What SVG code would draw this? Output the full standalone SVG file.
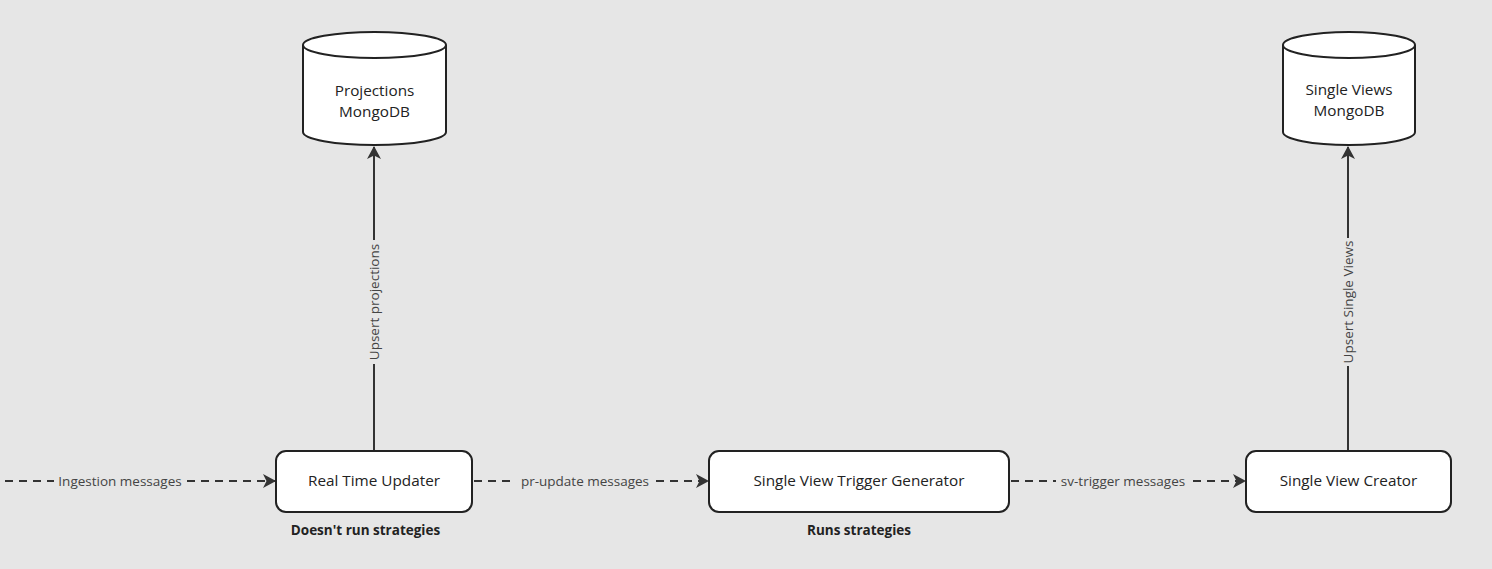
<svg xmlns="http://www.w3.org/2000/svg" width="1492" height="569" viewBox="0 0 1492 569">
<style>
.bg{fill:#e6e6e6}
.node{fill:#ffffff;stroke:#222;stroke-width:2}
.nt{font-family:"Open Sans","Liberation Sans",sans-serif;font-size:15.3px;fill:#222;text-anchor:middle}
.lbl{font-family:"Open Sans","Liberation Sans",sans-serif;font-size:13.5px;fill:#444;text-anchor:middle}
.note{font-family:"Open Sans","Liberation Sans",sans-serif;font-size:13.5px;font-weight:bold;fill:#222;text-anchor:middle}
.dash{fill:none;stroke:#333;stroke-width:2;stroke-dasharray:8 6}
.solid{fill:none;stroke:#333;stroke-width:2}
.lblbg{fill:#e6e6e6}
</style>
<defs>
<marker id="arr" viewBox="0 0 13 14" refX="12" refY="7" markerWidth="13" markerHeight="14" markerUnits="userSpaceOnUse" orient="auto">
<path d="M0,0 L13,7 L0,14 L3.5,7 Z" fill="#333"/>
</marker>
</defs>
<rect class="bg" x="0" y="0" width="1492" height="569"/>
<g id="connectors">
<line class="dash" x1="5" y1="481" x2="275" y2="481" marker-end="url(#arr)"/>
<rect class="lblbg" x="54" y="471" width="132" height="20"/>
<text class="lbl" x="120" y="485.5">Ingestion messages</text>
<line class="dash" x1="474" y1="481" x2="708" y2="481" marker-end="url(#arr)"/>
<rect class="lblbg" x="516" y="471" width="138" height="20"/>
<text class="lbl" x="585" y="485.5">pr-update messages</text>
<line class="dash" x1="1011" y1="481" x2="1245" y2="481" marker-end="url(#arr)"/>
<rect class="lblbg" x="1056" y="471" width="134" height="20"/>
<text class="lbl" x="1123" y="485.5">sv-trigger messages</text>
<line class="solid" x1="374" y1="450" x2="374" y2="147" marker-end="url(#arr)"/>
<rect class="lblbg" x="364" y="240" width="20" height="124"/>
<text class="lbl" transform="translate(378.5,302) rotate(-90)">Upsert projections</text>
<line class="solid" x1="1348" y1="450" x2="1348" y2="147" marker-end="url(#arr)"/>
<rect class="lblbg" x="1338" y="238" width="20" height="128"/>
<text class="lbl" transform="translate(1352.5,302) rotate(-90)">Upsert Single Views</text>
</g>
<g id="rtu">
<rect class="node" x="276" y="451" width="196" height="61" rx="10"/>
<text class="nt" x="374" y="486">Real Time Updater</text>
<text class="note" x="365.5" y="535">Doesn't run strategies</text>
</g>
<g id="svtg">
<rect class="node" x="709" y="451" width="300" height="61" rx="10"/>
<text class="nt" x="859" y="486">Single View Trigger Generator</text>
<text class="note" x="859" y="535">Runs strategies</text>
</g>
<g id="svc">
<rect class="node" x="1246" y="451" width="205" height="61" rx="10"/>
<text class="nt" x="1348.5" y="486">Single View Creator</text>
</g>
<g id="projdb">
<path class="node" d="M303,45 L303,132 A71.5,13 0 0 0 446,132 L446,45 A71.5,13 0 0 0 303,45 Z"/>
<path class="node" fill="none" d="M303,45 A71.5,13 0 0 0 446,45"/>
<text class="nt" x="374.5" y="96">Projections</text>
<text class="nt" x="374.5" y="117">MongoDB</text>
</g>
<g id="svdb">
<path class="node" d="M1283,45 L1283,132 A66,13 0 0 0 1415,132 L1415,45 A66,13 0 0 0 1283,45 Z"/>
<path class="node" fill="none" d="M1283,45 A66,13 0 0 0 1415,45"/>
<text class="nt" x="1349" y="95">Single Views</text>
<text class="nt" x="1349" y="116">MongoDB</text>
</g>
</svg>
